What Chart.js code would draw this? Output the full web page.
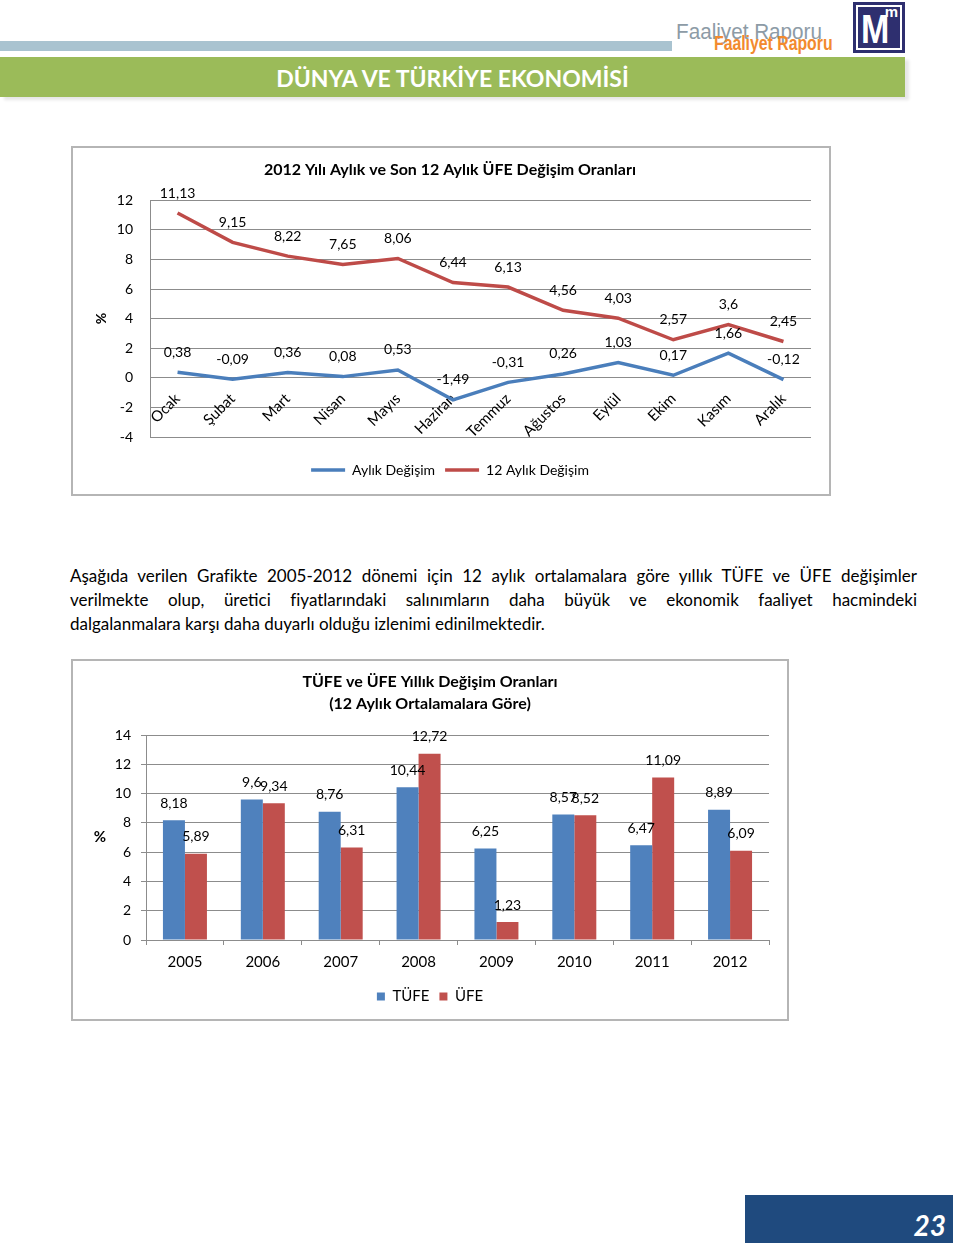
<!DOCTYPE html>
<html lang="tr">
<head>
<meta charset="utf-8">
<title>Faaliyet Raporu - Dünya ve Türkiye Ekonomisi</title>
<script src="https://cdn.jsdelivr.net/npm/chart.js@4.4.1/dist/chart.umd.min.js"></script>
<style>
  body { margin: 0; width: 960px; height: 1249px; position: relative; background: #fff; font-family: Lato, "Open Sans", sans-serif; overflow: hidden; }
  .strip { position: absolute; left: 0; top: 41px; width: 672px; height: 10px; background: #a9c3d0; }
  .fr1 { position: absolute; left: 676px; top: 19px; font-family: "Liberation Sans", sans-serif; font-size: 22px; color: #8d9ba6; white-space: nowrap; transform: scaleX(0.94); transform-origin: left top; }
  .fr2 { position: absolute; left: 714px; top: 32px; font-family: "Liberation Sans", sans-serif; font-weight: bold; font-size: 20px; color: #f28a2e; white-space: nowrap; transform: scaleX(0.79); transform-origin: left top; }
  .logo { position: absolute; left: 853px; top: 2px; width: 52px; height: 51px; background: #2e2f6f; box-sizing: border-box; padding: 3px; }
  .logo-in { width: 100%; height: 100%; box-sizing: border-box; border: 2px solid #fff; background: #2e2f6f; position: relative; color: #fff; font-family: "Liberation Sans", sans-serif; font-weight: bold; }
  .logo-in .big { position: absolute; left: 3px; top: 3px; font-size: 40px; line-height: 38px; transform: scaleX(0.85); transform-origin: left top; }
  .logo-in .small { position: absolute; right: 2px; top: -3px; font-size: 15px; line-height: 15px; }
  .band { position: absolute; left: 0; top: 57px; width: 905px; height: 40px; background: #9bbb59; box-shadow: 4px 3px 3px #e6e6e6; color: #fff; font-weight: bold; font-size: 23px; line-height: 42px; text-align: center; }
  .box { position: absolute; border: 2px solid #b5b5b5; box-sizing: border-box; background: #fff; }
  .box canvas { display: block; }
  .para { position: absolute; left: 70px; top: 564px; width: 847px; font-size: 17px; line-height: 24px; color: #000; }
  .para div { white-space: nowrap; }
  .para .j { text-align: justify; text-align-last: justify; white-space: normal; }
  .foot { position: absolute; left: 745px; top: 1195px; width: 208px; height: 48px; background: #1f4a7e; color: #fff; font-weight: bold; font-style: italic; font-size: 28px; text-align: right; line-height: 60px; padding-right: 7px; box-sizing: border-box; }
</style>
</head>
<body>
<div class="strip"></div>
<div class="fr1">Faaliyet Raporu</div>
<div class="fr2">Faaliyet Raporu</div>
<div class="logo"><div class="logo-in"><span class="big">M</span><span class="small">m</span></div></div>
<div class="band">DÜNYA VE TÜRKİYE EKONOMİSİ</div>

<div class="box" style="left:71px;top:146px;width:760px;height:350px;"><canvas id="ufeAylik" width="756" height="346"></canvas></div>

<div class="para">
  <div class="j">Aşağıda verilen Grafikte 2005-2012 dönemi için 12 aylık ortalamalara göre yıllık TÜFE ve ÜFE değişimler</div>
  <div class="j">verilmekte olup, üretici fiyatlarındaki salınımların daha büyük ve ekonomik faaliyet hacmindeki</div>
  <div>dalgalanmalara karşı daha duyarlı olduğu izlenimi edinilmektedir.</div>
</div>

<div class="box" style="left:71px;top:659px;width:718px;height:362px;"><canvas id="tufeUfe" width="714" height="358"></canvas></div>

<div class="foot">23</div>

<script>
// 2012 monthly PPI (ÜFE)
var months = ["Ocak", "Şubat", "Mart", "Nisan", "Mayıs", "Haziran", "Temmuz", "Ağustos", "Eylül", "Ekim", "Kasım", "Aralık"];
var aylikDegisim = [0.38, -0.09, 0.36, 0.08, 0.53, -1.49, -0.31, 0.26, 1.03, 0.17, 1.66, -0.12];
var yillikDegisim = [11.13, 9.15, 8.22, 7.65, 8.06, 6.44, 6.13, 4.56, 4.03, 2.57, 3.6, 2.45];

// yearly CPI / PPI, 12 month averages
var years = ["2005", "2006", "2007", "2008", "2009", "2010", "2011", "2012"];
var tufe = [8.18, 9.6, 8.76, 10.44, 6.25, 8.57, 6.47, 8.89];
var ufe = [5.89, 9.34, 6.31, 12.72, 1.23, 8.52, 11.09, 6.09];

var FONT = "Lato";
var GRID = "#8c8c8c";

function trNum(v) {
  return String(v).replace(".", ",");
}

// value labels above points / bars
var valueLabels = {
  id: "valueLabels",
  afterDatasetsDraw: function (chart, args, opts) {
    var ctx = chart.ctx;
    ctx.save();
    ctx.font = opts.size + "px " + FONT;
    ctx.fillStyle = "#000";
    ctx.textAlign = "center";
    ctx.textBaseline = "middle";
    chart.data.datasets.forEach(function (ds, i) {
      chart.getDatasetMeta(i).data.forEach(function (el, j) {
        ctx.fillText(trNum(ds.data[j]), el.x, el.y - opts.offset);
      });
    });
    if (opts.sideTitle) {
      var a = chart.chartArea;
      ctx.font = "bold 15px " + FONT;
      ctx.fillText(opts.sideTitle, opts.sideX, (a.top + a.bottom) / 2);
    }
    ctx.restore();
  }
};

Chart.defaults.font.family = FONT;
Chart.defaults.color = "#000";
Chart.defaults.animation = false;

new Chart(document.getElementById("ufeAylik"), {
  type: "line",
  data: {
    labels: months,
    datasets: [
      { label: "Aylık Değişim", data: aylikDegisim, borderColor: "#4a7ebb", backgroundColor: "#4a7ebb", borderWidth: 3.5, pointRadius: 0, tension: 0 },
      { label: "12 Aylık Değişim", data: yillikDegisim, borderColor: "#be4b48", backgroundColor: "#be4b48", borderWidth: 3.5, pointRadius: 0, tension: 0 }
    ]
  },
  options: {
    responsive: false,
    layout: { padding: { left: 16, right: 18, top: 0, bottom: 7 } },
    scales: {
      x: {
        position: { y: 0 },
        offset: true,
        grid: { display: false },
        border: { display: false },
        ticks: { autoSkip: false, minRotation: 45, maxRotation: 45, padding: 4, font: { size: 15 } }
      },
      y: {
        min: -4,
        max: 12,
        ticks: { stepSize: 2, padding: 17, font: { size: 14 } },
        grid: { color: GRID, drawTicks: false },
        border: { color: GRID },
        title: { display: true, text: "%", font: { size: 14, weight: "bold" } },
        afterFit: function (s) { s.width = 61; }
      }
    },
    plugins: {
      title: { display: true, text: "2012 Yılı Aylık ve Son 12 Aylık ÜFE Değişim Oranları", font: { size: 16, weight: "bold" }, padding: { top: 12, bottom: 21 } },
      legend: {
        position: "bottom",
        title: { display: true, text: "", padding: 0, font: { size: 16, lineHeight: 1 } },
        labels: { usePointStyle: true, pointStyle: "line", pointStyleWidth: 34, font: { size: 14 }, padding: 10 }
      },
      tooltip: { enabled: false },
      valueLabels: { size: 14, offset: 20 }
    }
  },
  plugins: [valueLabels]
});

new Chart(document.getElementById("tufeUfe"), {
  type: "bar",
  data: {
    labels: years,
    datasets: [
      { label: "TÜFE", data: tufe, backgroundColor: "#4f81bd", categoryPercentage: 0.565, barPercentage: 1 },
      { label: "ÜFE", data: ufe, backgroundColor: "#c0504d", categoryPercentage: 0.565, barPercentage: 1 }
    ]
  },
  options: {
    responsive: false,
    layout: { padding: { left: 18, right: 18, top: 0, bottom: 5 } },
    scales: {
      x: {
        grid: { color: GRID, drawOnChartArea: false, drawTicks: true, tickLength: 5 },
        border: { color: GRID },
        ticks: { padding: 8, font: { size: 15 } }
      },
      y: {
        min: 0,
        max: 14,
        ticks: { stepSize: 2, padding: 10, font: { size: 14 } },
        grid: { color: GRID, drawTicks: true, tickLength: 5 },
        border: { color: GRID },
        afterFit: function (s) { s.width = 55; }
      }
    },
    plugins: {
      title: { display: true, text: ["TÜFE ve ÜFE Yıllık Değişim Oranları", "(12 Aylık Ortalamalara Göre)"], font: { size: 16, weight: "bold", lineHeight: 1.375 }, padding: { top: 10, bottom: 20 } },
      legend: {
        position: "bottom",
        labels: { boxWidth: 8, boxHeight: 8, font: { size: 15 }, padding: 10 }
      },
      tooltip: { enabled: false },
      valueLabels: { size: 14, offset: 17, sideTitle: "%", sideX: 27 }
    }
  },
  plugins: [valueLabels]
});
</script>
</body>
</html>
